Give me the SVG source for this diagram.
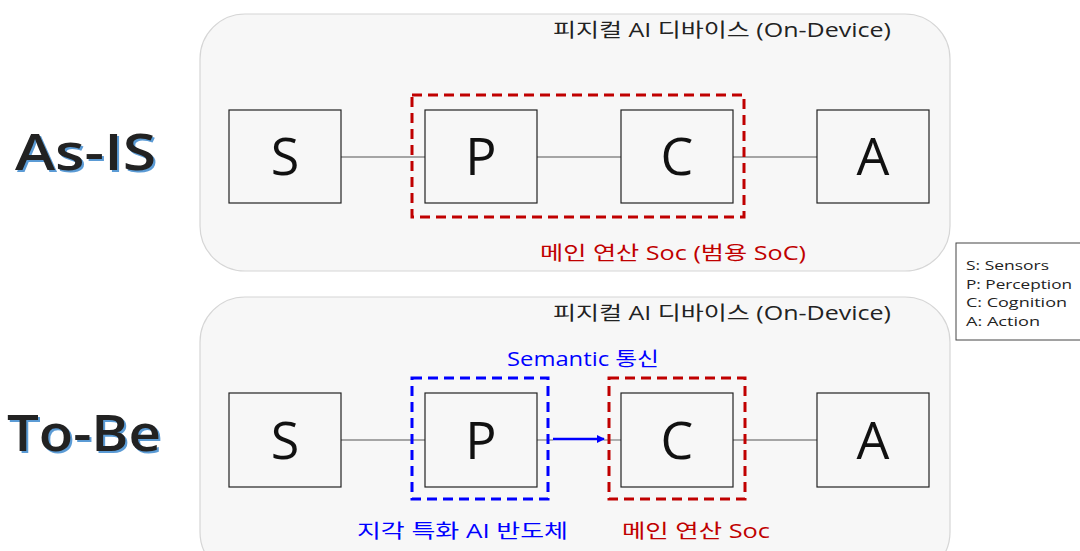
<svg xmlns="http://www.w3.org/2000/svg" width="1080" height="551" viewBox="0 0 1080 551">
<style>
.panel{fill:#f7f7f7;stroke:#d6d6d6;stroke-width:1.2}
.box{fill:#f7f7f7;stroke:#222;stroke-width:1.2}
.letter{font-family:"Open Sans","Noto Sans CJK KR",sans-serif;font-size:52px;fill:#111;text-anchor:middle}
.lbl{font-family:"Open Sans","Noto Sans CJK KR",sans-serif;font-size:19.5px}
.big{font-family:"Open Sans","Noto Sans CJK KR",sans-serif;font-size:51px;font-weight:600}
.conn{stroke:#8a8a8a;stroke-width:1.3;fill:none}
.dred{fill:none;stroke:#c00000;stroke-width:3;stroke-dasharray:10,6}
.dblue{fill:none;stroke:#0000ff;stroke-width:3;stroke-dasharray:10,6}
.leg{font-family:"Open Sans","Noto Sans CJK KR",sans-serif;font-size:13.5px;fill:#222}
</style>
<defs>
<marker id="ah" markerWidth="8" markerHeight="8" refX="7" refY="4" orient="auto" markerUnits="userSpaceOnUse">
<path d="M0,0 L8,4 L0,8 z" fill="#0000ff"/>
</marker>
</defs>
<rect width="1080" height="551" fill="#ffffff"/>

<g id="panel-asis">
<rect class="panel" x="200" y="14" width="750" height="257" rx="45"/>
<text class="lbl" x="553" y="37" textLength="338" lengthAdjust="spacingAndGlyphs" fill="#222">피지컬 AI 디바이스 (On-Device)</text>
</g>
<g id="panel-tobe">
<rect class="panel" x="200" y="297" width="750" height="280" rx="45"/>
<text class="lbl" x="553" y="320" textLength="338" lengthAdjust="spacingAndGlyphs" fill="#222">피지컬 AI 디바이스 (On-Device)</text>
</g>

<g id="label-asis">
<text class="big" x="17" y="172" textLength="141" lengthAdjust="spacingAndGlyphs" fill="#5b9bd5">As-IS</text>
<text class="big" x="15" y="170" textLength="141" lengthAdjust="spacingAndGlyphs" fill="#222">As-IS</text>
</g>
<g id="label-tobe">
<text class="big" x="9" y="453" textLength="154" lengthAdjust="spacingAndGlyphs" fill="#5b9bd5">To-Be</text>
<text class="big" x="7" y="451" textLength="154" lengthAdjust="spacingAndGlyphs" fill="#222">To-Be</text>
</g>

<g id="connectors">
<line class="conn" x1="341" y1="157" x2="425" y2="157"/>
<line class="conn" x1="537" y1="157" x2="621" y2="157"/>
<line class="conn" x1="733" y1="157" x2="817" y2="157"/>
<line class="conn" x1="341" y1="440" x2="425" y2="440"/>
<line class="conn" x1="537" y1="440" x2="553" y2="440"/>
<line x1="553" y1="439" x2="604" y2="439" stroke="#0000ff" stroke-width="2.5" marker-end="url(#ah)"/>
<line class="conn" x1="604" y1="440" x2="621" y2="440"/>
<line class="conn" x1="733" y1="440" x2="817" y2="440"/>
</g>

<g id="asis-S"><rect class="box" x="229" y="110" width="112" height="93"/><text class="letter" x="285" y="175">S</text></g>
<g id="asis-P"><rect class="box" x="425" y="110" width="112" height="93"/><text class="letter" x="481" y="175">P</text></g>
<g id="asis-C"><rect class="box" x="621" y="110" width="112" height="93"/><text class="letter" x="677" y="175">C</text></g>
<g id="asis-A"><rect class="box" x="817" y="110" width="112" height="93"/><text class="letter" x="873" y="175">A</text></g>

<g id="asis-soc">
<rect class="dred" x="412" y="95" width="332" height="122"/>
<text class="lbl" x="540" y="260" textLength="266" lengthAdjust="spacingAndGlyphs" fill="#c00000">메인 연산 Soc (범용 SoC)</text>
</g>

<g id="tobe-S"><rect class="box" x="229" y="393" width="112" height="94"/><text class="letter" x="285" y="459">S</text></g>
<g id="tobe-P"><rect class="box" x="425" y="393" width="112" height="94"/><text class="letter" x="481" y="459">P</text></g>
<g id="tobe-C"><rect class="box" x="621" y="393" width="112" height="94"/><text class="letter" x="677" y="459">C</text></g>
<g id="tobe-A"><rect class="box" x="817" y="393" width="112" height="94"/><text class="letter" x="873" y="459">A</text></g>

<g id="tobe-perception-chip">
<rect class="dblue" x="412" y="378" width="136" height="121"/>
<text class="lbl" x="357" y="538" textLength="211" lengthAdjust="spacingAndGlyphs" fill="#0000ff">지각 특화 AI 반도체</text>
</g>
<g id="tobe-soc">
<rect class="dred" x="609" y="378" width="136" height="121"/>
<text class="lbl" x="622" y="538" textLength="148" lengthAdjust="spacingAndGlyphs" fill="#c00000">메인 연산 Soc</text>
</g>
<g id="semantic-label">
<text class="lbl" x="507" y="366" textLength="152" lengthAdjust="spacingAndGlyphs" fill="#0000ff">Semantic 통신</text>
</g>

<g id="legend">
<rect x="956" y="243" width="130" height="97" fill="#ffffff" stroke="#444" stroke-width="1"/>
<text class="leg" x="966" y="270" textLength="83" lengthAdjust="spacingAndGlyphs">S: Sensors</text>
<text class="leg" x="966" y="289" textLength="106" lengthAdjust="spacingAndGlyphs">P: Perception</text>
<text class="leg" x="966" y="307" textLength="101" lengthAdjust="spacingAndGlyphs">C: Cognition</text>
<text class="leg" x="966" y="326" textLength="74" lengthAdjust="spacingAndGlyphs">A: Action</text>
</g>
</svg>
